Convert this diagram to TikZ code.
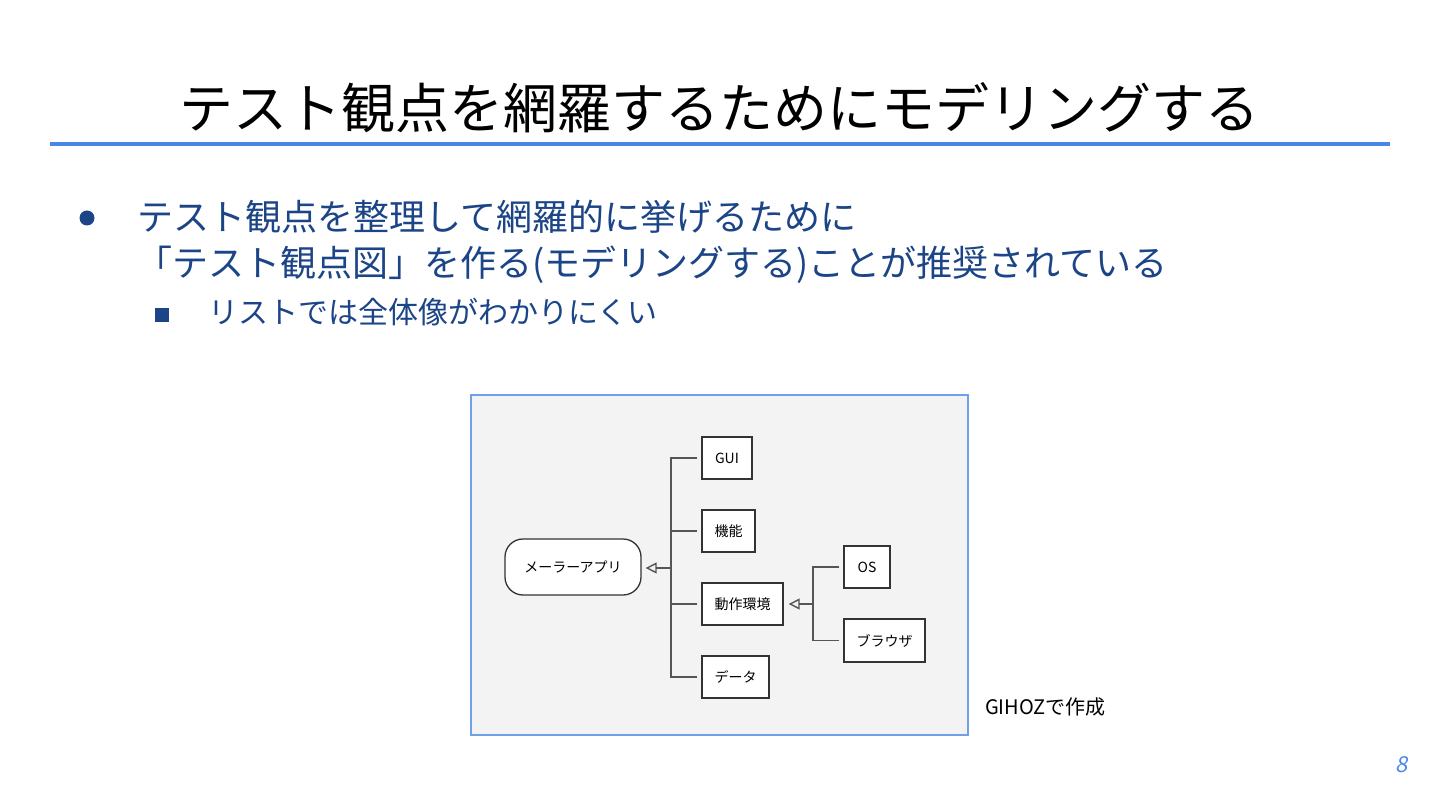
\documentclass[tikz,border=0pt]{standalone}
\usepackage{fontspec}
\setmainfont{Noto Sans CJK JP}
\newfontfamily\slantfont[FakeSlant=0.2]{Noto Sans CJK JP}
\usetikzlibrary{arrows.meta}
\definecolor{ruleblue}{HTML}{4A86E8}
\definecolor{textblue}{HTML}{1C4587}
\definecolor{frameblue}{HTML}{6FA0E8}
\definecolor{panelgray}{HTML}{F3F3F3}
\definecolor{linegray}{HTML}{555555}
\tikzset{
  box/.style={draw=black!80, line width=1.3pt, fill=white, minimum height=42, inner sep=0, font=\fontsize{14}{16}\selectfont},
  link/.style={draw=linegray, line width=1.8pt},
  inherit/.style={link, -{Triangle[open, length=11pt, width=11pt, line width=1.4pt]}}
}
\begin{document}
\begin{tikzpicture}[x=1pt, y=-1pt]
    \useasboundingbox[fill=white] (0,0) rectangle (1440,810);

    % Title and rule
    \node[font=\fontsize{54}{60}\selectfont] (title) at (719,108) {テスト観点を網羅するためにモデリングする};
    \draw[ruleblue, line width=4pt] (50,144) -- (1390,144);

    % Bullets
    \node[circle, fill=textblue, inner sep=0, minimum size=15] (dot1) at (87,218) {};
    \node[anchor=west, inner sep=0, text=textblue, font=\fontsize{36}{40}\selectfont] (line1) at (137,217) {テスト観点を整理して網羅的に挙げるために};
    \node[anchor=west, inner sep=0, text=textblue, font=\fontsize{36}{40}\selectfont] (line2) at (136,265) {「テスト観点図」を作る(モデリングする)ことが推奨されている};
    \node[fill=textblue, inner sep=0, minimum size=14] (dot2) at (162,315) {};
    \node[anchor=west, inner sep=0, text=textblue, font=\fontsize{30}{34}\selectfont] (line3) at (208,312) {リストでは全体像がわかりにくい};

    % Diagram panel
    \draw[frameblue, line width=1.5pt, fill=panelgray] (471,395) rectangle (968,735);
    \node[box, rounded corners=18pt, minimum width=136, minimum height=56] (app) at (573,567) {メーラーアプリ};
    \node[box, minimum width=50] (gui) at (727,458) {GUI};
    \node[box, minimum width=53] (func) at (728.5,531) {機能};
    \node[box, minimum width=81] (env) at (742.5,604) {動作環境};
    \node[box, minimum width=67] (data) at (735.5,677) {データ};
    \node[box, minimum width=46] (os) at (867,567) {OS};
    \node[box, minimum width=81, minimum height=43] (browser) at (884.5,640.5) {ブラウザ};

    % Connectors
    \coordinate (j1) at (671,568);
    \coordinate (j2) at (813,604);
    \foreach \n in {gui, func, env, data}
        \draw[link] ([xshift=-4]\n.west) -| (j1);
    \draw[inherit, shorten >=4pt] (j1) -- (app.east |- j1);
    \foreach \n in {os, browser}
        \draw[link] ([xshift=-4]\n.west) -| (j2);
    \draw[inherit, shorten >=5pt] (j2) -- (env.east);

    % Notes
    \node[anchor=west, inner sep=0, font=\fontsize{20}{23}\selectfont] (credit) at (985,707) {GIHOZで作成};
    \node[text=ruleblue, font=\fontsize{22}{26}\slantfont] (page) at (1402,765) {8};
\end{tikzpicture}
\end{document}
